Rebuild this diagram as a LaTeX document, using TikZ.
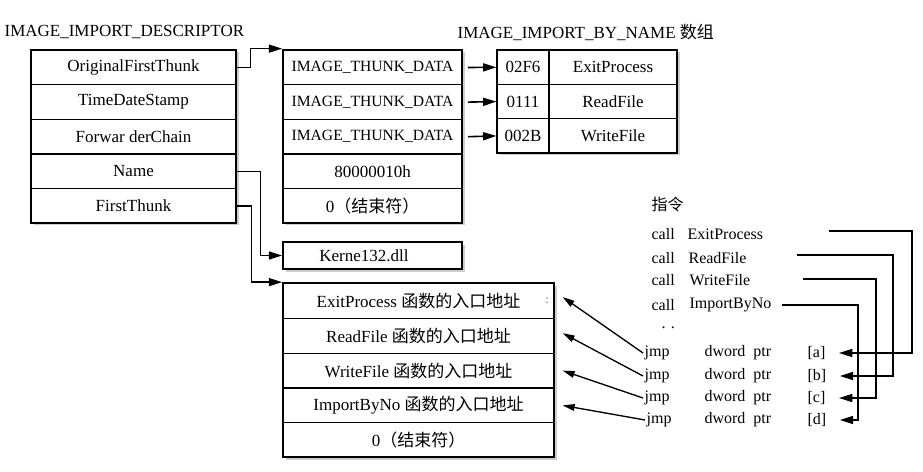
\documentclass[tikz,border=0pt]{standalone}
\usepackage{fontspec}
\setmainfont{Liberation Serif}
\newfontfamily\cjk{Noto Sans CJK SC}
\usetikzlibrary{arrows.meta,shadows,calc}
\begin{document}
\begin{tikzpicture}[x=0.75pt,y=-0.75pt,
  every node/.style={font=\fontsize{12.75}{15}\selectfont, inner sep=1pt},
  outerbox/.style={draw, line width=1.3pt, fill=white, inner sep=0pt,
    drop shadow={shadow xshift=2.2pt, shadow yshift=-2.2pt, fill=black!40}},
  cell/.style={draw, line width=0.9pt, inner sep=0pt},
  dcell/.style={cell, minimum width=153.75pt, minimum height=25.95pt},
  tcell/.style={cell, minimum width=134.25pt, minimum height=25.95pt},
  ncell/.style={cell, minimum width=39pt, minimum height=25.725pt},
  fcell/.style={cell, minimum width=96pt, minimum height=25.725pt},
  icell/.style={cell, minimum width=203.25pt, minimum height=26.1pt},
  thunktext/.style={font=\fontsize{11.7}{14}\selectfont},
  rtext/.style={anchor=west, font=\fontsize{12}{14}\selectfont},
  conn/.style={line width=1.2pt, -{Triangle[length=10pt,width=6pt]}},
  jconn/.style={line width=1pt, -{Triangle[length=9pt,width=5pt]}}
]
\useasboundingbox (0,0) rectangle (923,471);

% titles
\node[anchor=west] (titleA) at (3,32) {IMAGE\_IMPORT\_DESCRIPTOR};
\node[anchor=west] (titleB) at (456,32) {IMAGE\_IMPORT\_BY\_NAME {\cjk 数组}};

% IMAGE_IMPORT_DESCRIPTOR
\node[outerbox, minimum width=153.75pt, minimum height=129.75pt] (desc) at (133.5,136) {};
\node[dcell] (d1) at (133.5,67.5) {OriginalFirstThunk};
\node[dcell] (d2) at (133.5,102.1) {TimeDateStamp};
\node[dcell] (d3) at (133.5,136.7) {Forwar derChain};
\node[dcell] (d4) at (133.5,171.3) {Name};
\node[dcell] (d5) at (133.5,205.9) {FirstThunk};

% IMAGE_THUNK_DATA array
\node[outerbox, minimum width=134.25pt, minimum height=129.75pt] (thunk) at (372.5,136) {};
\node[tcell, thunktext] (t1) at (372.5,67.5) {IMAGE\_THUNK\_DATA};
\node[tcell, thunktext] (t2) at (372.5,102.1) {IMAGE\_THUNK\_DATA};
\node[tcell, thunktext] (t3) at (372.5,136.7) {IMAGE\_THUNK\_DATA};
\node[tcell] (t4) at (372.5,171.3) {80000010h};
\node[tcell] (t5) at (372.5,205.9) {0{\cjk （结束符）}};

% IMAGE_IMPORT_BY_NAME
\node[outerbox, minimum width=135pt, minimum height=77.175pt] (byname) at (587,100.95) {};
\node[ncell] (b1n) at (523,67.3) {02F6};
\node[fcell] (b1f) at (613,67.3) {ExitProcess};
\node[ncell] (b2n) at (523,101.6) {0111};
\node[fcell] (b2f) at (613,101.6) {ReadFile};
\node[ncell] (b3n) at (523,135.9) {002B};
\node[fcell] (b3f) at (613,135.9) {WriteFile};

% Kernel32
\node[outerbox, minimum width=134.25pt, minimum height=20.25pt] (kern) at (372.5,255.5) {};
\node[anchor=center, font=\fontsize{12.75}{15}\rmfamily\selectfont] (kernt) at (364,256) {Kerne132.dll};

% IAT
\node[outerbox, minimum width=203.25pt, minimum height=130.5pt] (iat) at (418.5,370) {};
\node[icell] (i1) at (418.5,301) {ExitProcess {\cjk 函数的入口地址}};
\node[icell] (i2) at (418.5,335.8) {ReadFile {\cjk 函数的入口地址}};
\node[icell] (i3) at (418.5,370.6) {WriteFile {\cjk 函数的入口地址}};
\node[icell] (i4) at (418.5,405.4) {ImportByNo {\cjk 函数的入口地址}};
\node[icell] (i5) at (418.5,440.2) {0{\cjk （结束符）}};
\node[font=\fontsize{9}{10}\selectfont, text=black!60] (colon) at (547,301) {:};

% connectors on the left
\draw[conn] (d1.east) -- ++(14,0) |- (thunk.north west);
\draw[conn] (d4.east) -- ++(24,0) |- (kern.west);
\draw[conn] (d5.east) -- ++(15,0) |- (iat.north west);
\draw[conn] ([xshift=4pt]t1.east) -- (b1n.west);
\draw[conn] ([xshift=4pt]t2.east) -- (b2n.west);
\draw[conn] ([xshift=4pt]t3.east) -- (b3n.west);

% instructions
\node[anchor=west, font=\fontsize{12}{14}\cjk] (zl) at (650,204) {指令};
\node[rtext] (c1) at (650,234) {call};
\node[rtext] (f1) at (686,234) {ExitProcess};
\node[rtext] (c2) at (650,258) {call};
\node[rtext] (f2) at (687,258) {ReadFile};
\node[rtext] (c3) at (650,280) {call};
\node[rtext] (f3) at (688,280) {WriteFile};
\node[rtext] (c4) at (650,305) {call};
\node[rtext] (f4) at (688,305) {ImportByNo};
\node[rtext] (dots) at (660,328) {. .};

\node[rtext] (ja) at (643,353) {jmp};
\node[rtext] (pa) at (703,353) {dword\ \ ptr};
\node[rtext] (ba) at (806,353) {[a]};
\node[rtext] (jb) at (643,376) {jmp};
\node[rtext] (pb) at (703,376) {dword\ \ ptr};
\node[rtext] (bb) at (806,376) {[b]};
\node[rtext] (jc) at (643,398) {jmp};
\node[rtext] (pc) at (703,398) {dword\ \ ptr};
\node[rtext] (bc) at (806,398) {[c]};
\node[rtext] (jd) at (645,420) {jmp};
\node[rtext] (pd) at (703,420) {dword\ \ ptr};
\node[rtext] (bd) at (806,420) {[d]};

\coordinate (s1) at (829,231);
\coordinate (s2) at (797,255);
\coordinate (s3) at (803,279);
\coordinate (s4) at (782,305);
\draw[conn] (s1) -- ++(83,0) |- ([xshift=9pt]ba.east);
\draw[conn] (s2) -- ++(96,0) |- ([xshift=9pt]bb.east);
\draw[conn] (s3) -- ++(73,0) |- ([xshift=9pt]bc.east);
\draw[conn] (s4) -- ++(76,0) |- ([xshift=9pt]bd.east);

\draw[jconn] (ja.west) -- ([xshift=6pt,yshift=3pt]i1.east);
\draw[jconn] (jb.west) -- ([xshift=6pt,yshift=2pt]i2.east);
\draw[jconn] (jc.west) -- ([xshift=6pt]i3.east);
\draw[jconn] (jd.west) -- ([xshift=6pt]i4.east);
\end{tikzpicture}
\end{document}
